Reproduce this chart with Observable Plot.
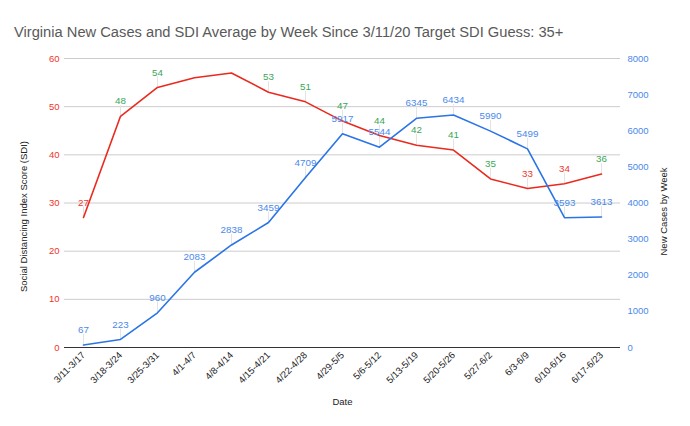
<!DOCTYPE html>
<html>
<head>
<meta charset="utf-8">
<script src="https://cdn.jsdelivr.net/npm/d3@7"></script>
<script src="https://cdn.jsdelivr.net/npm/@observablehq/plot@0.6"></script>
<style>
  body { margin: 0; background: #fff; font-family: "Liberation Sans", Arial, sans-serif; }
  #title { height: 45px; box-sizing: border-box; padding: 23px 0 0 14px; font-size: 14.7px; color: #595959; white-space: nowrap; line-height: 18px; }
</style>
</head>
<body>
<div id="title">Virginia New Cases and SDI Average by Week Since 3/11/20 Target SDI Guess: 35+</div>
<div id="chart"></div>
<script>
const weeks = ["3/11-3/17","3/18-3/24","3/25-3/31","4/1-4/7","4/8-4/14","4/15-4/21","4/22-4/28","4/29-5/5","5/6-5/12","5/13-5/19","5/20-5/26","5/27-6/2","6/3-6/9","6/10-6/16","6/17-6/23"];
const sdi = [27,48,54,56,57,53,51,47,44,42,41,35,33,34,36];
const sdiShown = [true,true,true,false,false,true,true,true,true,true,true,true,true,true,true];
const cases = [67,223,960,2083,2838,3459,4709,5917,5544,6345,6434,5990,5499,3593,3613];
const sdiTicks = [0,10,20,30,40,50,60];
const caseTicks = [0,1000,2000,3000,4000,5000,6000,7000,8000];
const targetSDI = 35;
const caseMax = 8000, sdiMax = 60;
const toSdi = c => c * sdiMax / caseMax;

const sdiData = weeks.map((w, i) => ({week: w, v: sdi[i], shown: sdiShown[i]}));
const caseData = weeks.map((w, i) => ({week: w, c: cases[i], v: toSdi(cases[i])}));
const leader = 2.2;

const RED = "#ea2a1f", BLUE = "#2a74e6", GREEN = "#3aa655", REDLBL = "#f0352a", BLUELBL = "#4a89ec";

const chart = Plot.plot({
  width: 690,
  height: 381,
  marginTop: 13,
  marginBottom: 79,
  marginLeft: 64,
  marginRight: 70,
  style: {fontFamily: "'Liberation Sans', Arial, sans-serif", fontSize: "9px", background: "#fff"},
  x: {type: "point", domain: weeks, padding: 0.5},
  y: {domain: [0, sdiMax]},
  marks: [
    Plot.gridY(sdiTicks.slice(1), {stroke: "#cccccc", strokeOpacity: 1}),
    Plot.ruleY([0], {stroke: "#333"}),
    Plot.axisY(sdiTicks, {anchor: "left", tickSize: 0, tickPadding: 5, color: REDLBL, label: null, fontSize: 9.5}),
    Plot.axisY(caseTicks.map(toSdi), {anchor: "right", tickSize: 0, tickPadding: 7, color: BLUELBL, label: null, fontSize: 9.5, tickFormat: d => String(Math.round(d * caseMax / sdiMax))}),
    Plot.axisX({tickRotate: -45, tickSize: 0, tickPadding: 6, label: null, fontSize: 9.5, color: "#222"}),
    Plot.ruleX(sdiData.filter(d => d.shown), {x: "week", y1: "v", y2: d => d.v + leader, stroke: "#e4e4e4"}),
    Plot.ruleX(caseData, {x: "week", y1: "v", y2: d => d.v + leader, stroke: "#e4e4e4"}),
    Plot.line(sdiData, {x: "week", y: "v", stroke: RED, strokeWidth: 1.6}),
    Plot.line(caseData, {x: "week", y: "v", stroke: BLUE, strokeWidth: 1.6}),
    Plot.text(sdiData.filter(d => d.shown), {x: "week", y: "v", text: d => String(d.v), dy: -15, fill: d => d.v >= targetSDI ? GREEN : REDLBL, fontSize: 9.8}),
    Plot.text(caseData, {x: "week", y: "v", text: d => String(d.c), dy: -15, fill: BLUELBL, fontSize: 9.8}),
    Plot.text(["Date"], {frameAnchor: "bottom", dy: 57, fill: "#222", fontSize: 9.5}),
    Plot.text(["Social Distancing Index Score (SDI)"], {frameAnchor: "left", textAnchor: "middle", dx: -41, dy: 13.5, rotate: -90, fill: "#222", fontSize: 9.5}),
    Plot.text(["New Cases by Week"], {frameAnchor: "right", textAnchor: "middle", dx: 43, dy: 8.5, rotate: -90, fill: "#222", fontSize: 9.5})
  ]
});
document.getElementById("chart").appendChild(chart);
</script>
</body>
</html>
